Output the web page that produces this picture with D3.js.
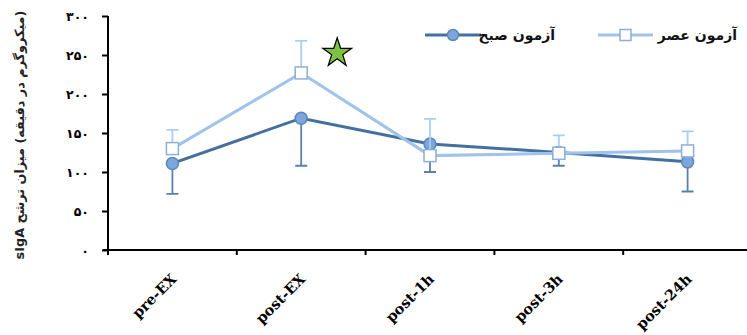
<!DOCTYPE html>
<html>
<head>
<meta charset="utf-8">
<script src="https://d3js.org/d3.v7.min.js"></script>
<style>
  body { margin: 0; background: #fff; }
  svg { display: block; }
</style>
</head>
<body>
<div id="chart"></div>
<script>
// data
var categories = ["pre-EX", "post-EX", "post-1h", "post-3h", "post-24h"];
var morning = [111, 169, 136, 125, 113];      // آزمون صبح
var morningErr = [39, 61, 36, 17, 38];        // drawn downward
var evening = [130, 227, 121, 124, 127];      // آزمون عصر
var eveningErr = [24, 41, 47, 23, 25];        // drawn upward
var yTicks = [0, 50, 100, 150, 200, 250, 300];
var seriesNames = ["آزمون صبح", "آزمون عصر"];
var starAt = "post-EX";

var W = 747, H = 335;
var svg = d3.select("#chart").append("svg")
  .attr("width", W).attr("height", H);

var x = d3.scaleBand().domain(categories).range([108, 752]);
var y = d3.scaleLinear().domain([0, 300]).range([250, 16]);

var faDigits = "۰۱۲۳۴۵۶۷۸۹";
function toFa(n) {
  return String(n).replace(/[0-9]/g, function (c) { return faDigits[+c]; });
}

var darkLine = "#44709f", darkFill = "#7ba7dc";
var lightLine = "#9fc3ea", lightStroke = "#8eaed6", lightErr = "#a6cff5";

// y axis
var yAxis = svg.append("g")
  .attr("transform", "translate(108,0)")
  .call(d3.axisLeft(y).tickValues(yTicks).tickSize(6).tickPadding(13).tickFormat(toFa));
yAxis.select(".domain").attr("stroke", "#000").attr("stroke-width", 2)
  .attr("d", "M0," + y(300) + "V" + (y(0) + 3));
yAxis.selectAll(".tick line").attr("stroke", "#000").attr("stroke-width", 2);
yAxis.selectAll(".tick text")
  .attr("font-family", "DejaVu Sans").attr("font-weight", "bold")
  .attr("font-size", 12.5).attr("fill", "#000");

// x axis
var xAxis = svg.append("g")
  .attr("transform", "translate(0,250)")
  .call(d3.axisBottom(x).tickSize(0).tickPadding(0));
xAxis.select(".domain").attr("stroke", "#000").attr("stroke-width", 2)
  .attr("d", "M103,0H752");
xAxis.selectAll(".tick text").remove();
// tick marks at band boundaries
var bounds = categories.map(function (c) { return x(c); }).concat([x.range()[1]]);
xAxis.selectAll(".bt").data(bounds).enter().append("line")
  .attr("x1", function (d) { return d; }).attr("x2", function (d) { return d; })
  .attr("y1", 0).attr("y2", 5)
  .attr("stroke", "#000").attr("stroke-width", 2);
xAxis.selectAll(".xl").data(categories).enter().append("text")
  .attr("transform", function (d) {
    return "translate(" + (x(d) + x.bandwidth() / 2 + 5) + ",30) rotate(-45)";
  })
  .attr("text-anchor", "end")
  .attr("font-family", "DejaVu Serif").attr("font-weight", "bold")
  .attr("font-size", 14.5).attr("fill", "#000")
  .text(function (d) { return d; });

// y axis title
svg.append("text")
  .attr("transform", "translate(24,135) rotate(-90)")
  .attr("direction", "rtl")
  .attr("text-anchor", "middle")
  .attr("font-family", "DejaVu Sans").attr("font-weight", "bold")
  .attr("font-size", 12.8).attr("fill", "#222")
  .text("(میکروگرم در دقیقه) میزان ترشح sIgA");

function cx(i) { return x(categories[i]) + x.bandwidth() / 2; }
var line = d3.line().x(function (d, i) { return cx(i); }).y(function (d) { return y(d); });

// morning series
var gm = svg.append("g");
gm.selectAll(".err").data(morning).enter().append("path")
  .attr("d", function (d, i) {
    var yb = y(d - morningErr[i]);
    return "M" + cx(i) + "," + y(d) + "V" + yb + "M" + (cx(i) - 6) + "," + yb + "H" + (cx(i) + 6);
  })
  .attr("stroke", "#5a80ab").attr("stroke-width", 1.8).attr("fill", "none");
gm.append("path").datum(morning).attr("d", line)
  .attr("stroke", darkLine).attr("stroke-width", 3).attr("fill", "none");
gm.selectAll("circle").data(morning).enter().append("circle")
  .attr("cx", function (d, i) { return cx(i); }).attr("cy", function (d) { return y(d); })
  .attr("r", 6).attr("fill", darkFill).attr("stroke", "#5b86b8").attr("stroke-width", 1.5);

// evening series
var ge = svg.append("g");
ge.selectAll(".err").data(evening).enter().append("path")
  .attr("d", function (d, i) {
    var yt = y(d + eveningErr[i]);
    return "M" + cx(i) + "," + y(d) + "V" + yt + "M" + (cx(i) - 6) + "," + yt + "H" + (cx(i) + 6);
  })
  .attr("stroke", lightErr).attr("stroke-width", 1.8).attr("fill", "none");
ge.append("path").datum(evening).attr("d", line)
  .attr("stroke", lightLine).attr("stroke-width", 3).attr("fill", "none");
ge.selectAll("rect").data(evening).enter().append("rect")
  .attr("x", function (d, i) { return cx(i) - 6; }).attr("y", function (d) { return y(d) - 6; })
  .attr("width", 12).attr("height", 12)
  .attr("fill", "#fff").attr("stroke", lightStroke).attr("stroke-width", 1.5);

// significance star
svg.append("path")
  .attr("d", d3.symbol().type(d3.symbolStar).size(260)())
  .attr("transform", "translate(" + (cx(categories.indexOf(starAt)) + 36) + "," + 53 + ")")
  .attr("fill", "#7dc242").attr("stroke", "#000").attr("stroke-width", 1.2);

// legend
var leg = svg.append("g");
var legItems = [
  { name: seriesNames[0], x1: 425, x2: 481, color: darkLine, tx: 555, mark: "c" },
  { name: seriesNames[1], x1: 598, x2: 653, color: lightLine, tx: 737, mark: "s" }
];
legItems.forEach(function (it) {
  leg.append("line").attr("x1", it.x1).attr("x2", it.x2).attr("y1", 35).attr("y2", 35)
    .attr("stroke", it.color).attr("stroke-width", 3);
  var mx = (it.x1 + it.x2) / 2;
  if (it.mark === "c") {
    leg.append("circle").attr("cx", mx).attr("cy", 35).attr("r", 5.5)
      .attr("fill", darkFill).attr("stroke", "#5b86b8").attr("stroke-width", 1.5);
  } else {
    leg.append("rect").attr("x", mx - 5.5).attr("y", 29.5).attr("width", 11).attr("height", 11)
      .attr("fill", "#fff").attr("stroke", lightStroke).attr("stroke-width", 1.5);
  }
  leg.append("text").attr("x", it.tx).attr("y", 40)
    .attr("direction", "rtl").attr("text-anchor", "start")
    .attr("font-family", "DejaVu Sans").attr("font-weight", "bold")
    .attr("font-size", 14).attr("fill", "#111")
    .text(it.name);
});
</script>
</body>
</html>
